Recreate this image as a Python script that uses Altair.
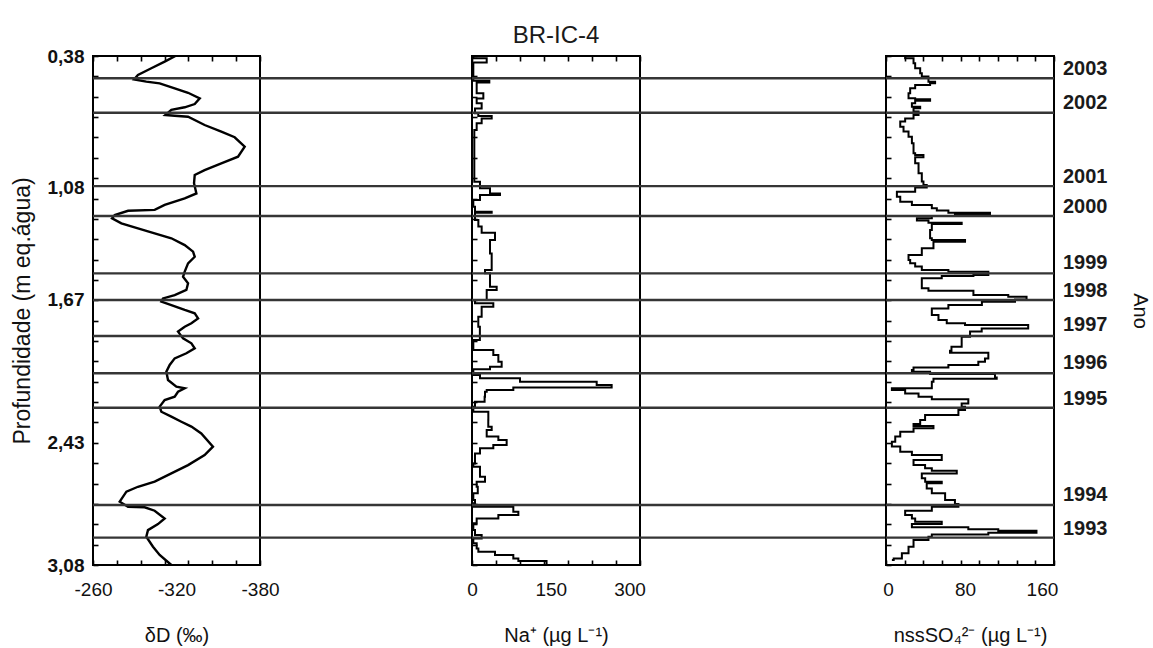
import altair as alt
import pandas as pd

FONT = "Liberation Sans"

# ---------------- data ----------------
# delta D profile (depth in m eq. water, value in permil)
dD_depth = [0.380, 0.410, 0.445, 0.481, 0.504, 0.516, 0.525, 0.552, 0.575, 0.605, 0.635, 0.652, 0.666, 0.693,
            0.697, 0.702, 0.746, 0.781, 0.811, 0.861, 0.914, 0.949, 0.985, 1.011, 1.055, 1.109, 1.135, 1.170,
            1.196, 1.201, 1.224, 1.241, 1.268, 1.294, 1.321, 1.347, 1.383, 1.418, 1.445, 1.480, 1.524, 1.551,
            1.586, 1.621, 1.648, 1.666, 1.683, 1.701, 1.727, 1.745, 1.772, 1.798, 1.816, 1.842, 1.878, 1.904,
            1.931, 1.957, 1.984, 2.019, 2.055, 2.099, 2.134, 2.143, 2.161, 2.187, 2.205, 2.240, 2.267, 2.293,
            2.320, 2.346, 2.382, 2.452, 2.497, 2.550, 2.594, 2.638, 2.665, 2.691, 2.744, 2.771, 2.774, 2.792,
            2.833, 2.863, 2.895, 2.930, 2.983, 3.027, 3.080]
dD_val = [-319.2, -311.5, -301.9, -292.3, -289.5, -298.3, -307.9, -318.7, -328.3, -336.7, -333.1, -325.9, -316.3,
          -312.0, -318.7, -328.3, -340.2, -352.2, -361.8, -369.0, -364.2, -352.2, -340.2, -333.1, -332.6, -334.3,
          -325.9, -311.5, -304.3, -285.2, -275.6, -273.7, -280.4, -292.3, -304.3, -316.3, -325.9, -331.9, -333.1,
          -328.3, -325.9, -324.7, -328.3, -327.1, -318.7, -310.3, -309.1, -316.3, -325.9, -333.1, -335.5, -330.7,
          -325.9, -321.1, -324.7, -330.7, -333.1, -327.1, -318.7, -315.1, -312.7, -313.9, -319.9, -325.9, -321.1,
          -318.7, -311.5, -307.9, -309.1, -316.3, -323.5, -330.7, -337.8, -346.2, -340.2, -328.3, -316.3, -304.3,
          -292.3, -284.0, -279.2, -285.2, -297.1, -304.3, -311.5, -306.7, -299.5, -298.3, -303.1, -307.9, -316.3]

# Na+ profile (ug/L)
na_depth = [0.384, 0.392, 0.410, 0.415, 0.504, 0.511, 0.521, 0.552, 0.578, 0.605, 0.631, 0.658, 0.684, 0.698,
            0.711, 0.737, 0.773, 1.029, 1.047, 1.082, 1.109, 1.117, 1.144, 1.179, 1.206, 1.211, 1.250, 1.285,
            1.317, 1.356, 1.427, 1.515, 1.533, 1.604, 1.621, 1.674, 1.692, 1.710, 1.763, 1.816, 1.887, 1.913,
            1.940, 1.966, 2.002, 2.028, 2.042, 2.072, 2.090, 2.108, 2.125, 2.138, 2.152, 2.161, 2.187, 2.214,
            2.240, 2.267, 2.311, 2.346, 2.364, 2.399, 2.417, 2.444, 2.461, 2.488, 2.541, 2.559, 2.612, 2.638,
            2.665, 2.700, 2.735, 2.753, 2.771, 2.797, 2.815, 2.833, 2.859, 2.895, 2.921, 2.939, 2.965, 2.992,
            3.010, 3.027, 3.045, 3.059, 3.080]
na_val = [2.5, 28, 28, 2.5, 2.5, 33, 8.9, 8.9, 21.6, 8.9, 18.4, 5.7, 12, 37.5, 18.4, 8.9, 4.4, 4.4, 15.2, 34.3,
          53.3, 15.2, 2.5, 5.7, 37.5, 5.7, 12.1, 18.4, 43.8, 34.3, 37.5, 24.8, 34.3, 47, 28, 5.7, 40.6, 18.4, 12,
          15, 2.5, 2.5, 40.6, 50.2, 56.5, 34.3, 2.5, 15.2, 91.4, 237.5, 266, 78.7, 28, 24.8, 24, 5.7, 2.5, 31.1,
          31, 37.5, 28, 50.2, 66, 40.6, 15.2, 5.7, 2.5, 15.2, 24.8, 8.9, 11, 2.5, 5.7, 0.5, 78.7, 88.3, 50.2, 8.9,
          2.5, 5.7, 18.4, 2.5, 8.9, 12.1, 43.8, 78.7, 88.3, 142, 142]

# nss SO4 2- profile (ug/L)
so4_depth = [0.383, 0.392, 0.419, 0.445, 0.472, 0.489, 0.516, 0.525, 0.534, 0.551, 0.578, 0.604, 0.610, 0.617,
             0.631, 0.649, 0.657, 0.675, 0.693, 0.711, 0.728, 0.755, 0.781, 0.808, 0.843, 0.879, 0.896, 0.905,
             0.917, 0.949, 1.002, 1.046, 1.064, 1.077, 1.100, 1.126, 1.153, 1.170, 1.188, 1.200, 1.211, 1.220,
             1.229, 1.241, 1.253, 1.264, 1.271, 1.303, 1.347, 1.356, 1.365, 1.400, 1.436, 1.462, 1.480, 1.497,
             1.515, 1.524, 1.542, 1.547, 1.559, 1.595, 1.612, 1.625, 1.648, 1.657, 1.671, 1.683, 1.701, 1.719,
             1.754, 1.781, 1.798, 1.807, 1.825, 1.842, 1.869, 1.895, 1.922, 1.943, 1.954, 1.984, 2.002, 2.019,
             2.032, 2.046, 2.055, 2.067, 2.085, 2.092, 2.108, 2.143, 2.152, 2.170, 2.187, 2.201, 2.223, 2.240,
             2.258, 2.284, 2.311, 2.332, 2.343, 2.355, 2.373, 2.399, 2.426, 2.452, 2.479, 2.497, 2.523, 2.541,
             2.550, 2.567, 2.580, 2.594, 2.620, 2.638, 2.647, 2.674, 2.700, 2.735, 2.757, 2.771, 2.792, 2.815,
             2.833, 2.850, 2.863, 2.880, 2.891, 2.898, 2.909, 2.918, 2.930, 2.948, 2.983, 3.018, 3.045, 3.054]
so4_val = [17.9, 26.6, 28.3, 33.5, 35.2, 42.1, 49.0, 43.8, 28.3, 23.1, 21.4, 28.3, 43.8, 28.3, 24.9, 33.5, 26.6,
           31.8, 26.6, 17.9, 12.8, 16.2, 21.4, 24.9, 26.6, 26.6, 28.3, 36.9, 28.3, 31.8, 35.2, 36.9, 40.3, 28.3,
           9.3, 12.8, 24.9, 45.6, 50.8, 62.8, 106, 69.6, 45.6, 30.1, 42.1, 76.6, 45.6, 43.8, 45.6, 80.1, 47.3,
           35.2, 21.4, 23.1, 28.3, 35.2, 62.8, 104.3, 88.8, 55.9, 35.2, 35.2, 42.1, 88.8, 125, 144, 132, 97.6,
           62.8, 45.6,
           52.5, 61.1, 80.1, 145.7, 97.4, 85.3, 76.6, 76.6, 66, 64.5, 104.3, 100.8, 93.9, 62.8, 26.6, 24.9, 43.8,
           111.2, 113, 47.3, 45.6, 4.1, 17.9, 31.8, 45.6, 83.5, 76.6, 80.1, 73.2, 38.6, 33.5, 26.6, 47.3, 26.6,
           12.8, 7.6, 4.1, 12.8, 24.9, 55.9, 26.6, 26.6, 38.6, 45.6, 71.5, 35.2, 38.7, 55.9, 40.3, 45.6, 59.4,
           69.6, 73.2, 45.6, 17.9, 24.9, 28.3, 55.9, 24.9, 83.5, 114.6, 154.3, 104.3, 45.6, 42.1, 26.6, 21.4,
           14.5, 6.0, 4.1]

# annual layer boundaries and year labels
boundary_depth = [0.498, 0.681, 1.070, 1.229, 1.533, 1.674, 1.865, 2.063, 2.246, 2.762, 2.935]
year_depth = [0.451, 0.628, 1.020, 1.180, 1.477, 1.625, 1.807, 2.010, 2.201, 2.709, 2.891]
year_label = ["2003", "2002", "2001", "2000", "1999", "1998", "1997", "1996", "1995", "1994", "1993"]

depth_ticks = [0.38, 1.08, 1.67, 2.43, 3.08]
dD_ticks = [-260, -320, -380]
na_ticks = [0, 150, 300]
so4_ticks = [0, 80, 160]

# ---------------- layout ----------------
PAGE_W, PAGE_H = 1153, 648
LEFT, TOP = 93, 56
H = 509
W1, G1, W2, G2, W3 = 167, 212, 168, 246, 168
INK = "black"
RULE = "#353535"

yscale = alt.Scale(domain=[0.38, 3.08], reverse=True, nice=False, zero=False)
minor_y = [round(0.38 + k * 0.108, 4) for k in range(26)]

df_dD = pd.DataFrame({"depth": dD_depth, "v": dD_val, "i": range(len(dD_depth))})
df_na = pd.DataFrame({"depth": na_depth, "v": na_val, "i": range(len(na_depth))})
df_so4 = pd.DataFrame({"depth": so4_depth, "v": so4_val, "i": range(len(so4_depth))})
df_rules = pd.DataFrame({"depth": boundary_depth})
df_years = pd.DataFrame({"depth": year_depth, "year": year_label})


def rules_layer():
    return alt.Chart(df_rules).mark_rule(color=RULE, strokeWidth=2.4).encode(
        y=alt.Y("depth:Q", scale=yscale, axis=None)
    )


def main_x_axis(values, title, expr=None):
    kw = dict(orient="bottom", values=values, ticks=False, domain=False, grid=False,
              labelPadding=15, labelFontSize=19, labelFlush=False, labelOverlap=False,
              labelColor="#111", labelFont=FONT,
              title=title, titleFontSize=20, titlePadding=26, titleFontWeight="normal",
              titleColor="#111", titleFont=FONT)
    if expr:
        kw["labelExpr"] = expr
    return alt.Axis(**kw)


def tick_layers(df, xscale, xminor, right_axis=None):
    tick_kw = dict(tickSize=5, labels=False, domain=False, grid=False, title=None,
                   tickColor=INK, tickWidth=1.6)
    low = alt.Chart(df).mark_point(opacity=0).encode(
        x=alt.X("v:Q", scale=xscale, axis=alt.Axis(orient="bottom", offset=-5, values=xminor, **tick_kw)),
        y=alt.Y("depth:Q", scale=yscale, axis=alt.Axis(orient="left", offset=-5, values=minor_y, **tick_kw)),
    )
    high = alt.Chart(df).mark_point(opacity=0).encode(
        x=alt.X("v:Q", scale=xscale, axis=alt.Axis(orient="top", offset=-5, values=xminor, **tick_kw)),
        y=alt.Y("depth:Q", scale=yscale, axis=right_axis),
    )
    return [low, high]


# Panel 1 : delta D
xs1 = alt.Scale(domain=[-380, -260], reverse=True, nice=False, zero=False)
line1 = alt.Chart(df_dD).mark_line(color=INK, strokeWidth=2.4).encode(
    x=alt.X("v:Q", scale=xs1, axis=main_x_axis(dD_ticks, "δD (‰)", "'' + datum.value")),
    y=alt.Y("depth:Q", scale=yscale, axis=alt.Axis(
        orient="left", values=depth_ticks, ticks=False, domain=False, grid=False,
        labelExpr="replace(format(datum.value, '.2f'), '.', ',')",
        labelPadding=9, labelFontSize=19, labelFontWeight="bold", labelFlush=False, labelOverlap=False,
        labelColor="#111", labelFont=FONT,
        title="Profundidade (m eq.água)", titleFontSize=23, titlePadding=13, titleFontWeight="normal",
        titleColor="#111", titleFont=FONT)),
    order=alt.Order("i:Q"),
)
minor_x1 = [round(-260 - k * 120 / 7, 3) for k in range(8)]
p1 = alt.layer(line1, rules_layer(), *tick_layers(df_dD, xs1, minor_x1)).resolve_axis(
    x="independent", y="independent").properties(width=W1, height=H)

# Panel 2 : Na+
xs2 = alt.Scale(domain=[0, 320], nice=False, zero=False)
line2 = alt.Chart(df_na).mark_line(color=INK, strokeWidth=2, interpolate="step-before").encode(
    x=alt.X("v:Q", scale=xs2, axis=main_x_axis(na_ticks, "Na⁺ (µg L⁻¹)")),
    y=alt.Y("depth:Q", scale=yscale, axis=None),
    order=alt.Order("i:Q"),
)
minor_x2 = [round(k * 320 / 7, 3) for k in range(8)]
p2 = alt.layer(line2, rules_layer(), *tick_layers(df_na, xs2, minor_x2)).resolve_axis(
    x="independent", y="independent").properties(
    width=W2, height=H,
    title=alt.Title("BR-IC-4", fontSize=24, font=FONT, fontWeight="normal", color="#1a1a1a",
                    anchor="middle", offset=5))

# Panel 3 : nssSO4 2-
xs3 = alt.Scale(domain=[-2, 172.5], nice=False, zero=False)
line3 = alt.Chart(df_so4).mark_line(color=INK, strokeWidth=2, interpolate="step-before").encode(
    x=alt.X("v:Q", scale=xs3, axis=main_x_axis(so4_ticks, "nssSO₄²⁻ (µg L⁻¹)")),
    y=alt.Y("depth:Q", scale=yscale, axis=None),
    order=alt.Order("i:Q"),
)
years = alt.Chart(df_years).mark_text(
    align="left", baseline="middle", dx=9, font=FONT, fontSize=20, fontWeight="bold", color="#1a1a1a"
).encode(
    x=alt.value(W3),
    y=alt.Y("depth:Q", scale=yscale, axis=None),
    text="year:N",
)
ano_axis = alt.Axis(orient="right", labels=False, ticks=False, domain=False, grid=False,
                    title="Ano", titleFontSize=20, titlePadding=75, titleFontWeight="normal", titleAngle=90,
                    titleColor="#111", titleFont=FONT)
minor_x3 = [round(-2 + k * 174.5 / 9, 3) for k in range(10)]
p3 = alt.layer(line3, rules_layer(), years, *tick_layers(df_so4, xs3, minor_x3, right_axis=ano_axis)).resolve_axis(
    x="independent", y="independent").properties(width=W3, height=H)

# gaps: only the year boundary lines cross them
gap1 = rules_layer().properties(width=G1, height=H, view=alt.ViewBackground(stroke="transparent"))
gap2 = rules_layer().properties(width=G2, height=H, view=alt.ViewBackground(stroke="transparent"))

# fixed placement: the plot origin sits at (LEFT, TOP) of a PAGE_W x PAGE_H canvas
chart = alt.hconcat(p1, gap1, p2, gap2, p3, spacing=0, bounds="flush").properties(
    autosize=alt.AutoSizeParams(type="none"),
    padding={"left": LEFT, "top": TOP, "right": PAGE_W - LEFT, "bottom": PAGE_H - TOP},
    background="white",
).configure_view(
    stroke=INK, strokeWidth=2
)

chart.save("out.html", embed_options={"renderer": "svg", "actions": False})
